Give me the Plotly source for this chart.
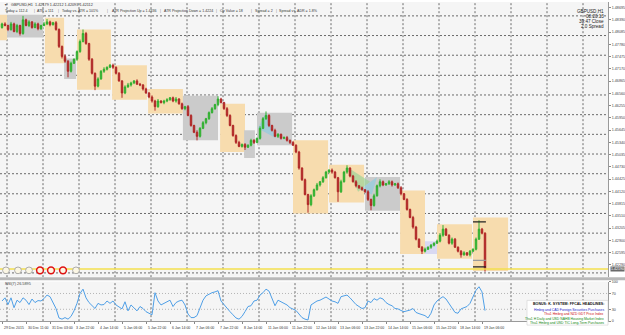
import plotly.graph_objects as go

# ---------------- data ----------------
first_open = 1.4820
closes = [
    1.4829, 1.4825, 1.4815, 1.4829, 1.4810, 1.4825, 1.4805, 1.4839, 1.4825, 1.4834,
    1.4820, 1.4829, 1.4817, 1.4825, 1.4829, 1.4834, 1.4827, 1.4832, 1.4815, 1.4773,
    1.4748, 1.4736, 1.4711, 1.4731, 1.4741, 1.4760, 1.4785, 1.4805, 1.4780, 1.4741,
    1.4706, 1.4674, 1.4692, 1.4711, 1.4716, 1.4721, 1.4726, 1.4721, 1.4706, 1.4687,
    1.4657, 1.4672, 1.4677, 1.4682, 1.4687, 1.4679, 1.4677, 1.4667, 1.4657, 1.4647,
    1.4637, 1.4623, 1.4637, 1.4633, 1.4637, 1.4640, 1.4645, 1.4637, 1.4642, 1.4630,
    1.4618, 1.4623, 1.4601, 1.4576, 1.4559, 1.4549, 1.4569, 1.4583, 1.4593, 1.4608,
    1.4618, 1.4628, 1.4642, 1.4633, 1.4618, 1.4601, 1.4576, 1.4551, 1.4534, 1.4524,
    1.4529, 1.4522, 1.4527, 1.4539, 1.4534, 1.4544, 1.4569, 1.4593, 1.4601, 1.4576,
    1.4564, 1.4549, 1.4554, 1.4544, 1.4546, 1.4539, 1.4534, 1.4527, 1.4510, 1.4470,
    1.4441, 1.4404, 1.4379, 1.4401, 1.4416, 1.4428, 1.4436, 1.4446, 1.4460, 1.4465,
    1.4460, 1.4446, 1.4411, 1.4436, 1.4460, 1.4470, 1.4450, 1.4436, 1.4426, 1.4421,
    1.4416, 1.4411, 1.4392, 1.4377, 1.4401, 1.4426, 1.4436, 1.4428, 1.4431, 1.4436,
    1.4428, 1.4431, 1.4421, 1.4406, 1.4392, 1.4367, 1.4347, 1.4323, 1.4293, 1.4273,
    1.4263, 1.4268, 1.4273, 1.4278, 1.4283, 1.4288, 1.4303, 1.4318, 1.4303, 1.4283,
    1.4293, 1.4273, 1.4263, 1.4254, 1.4259, 1.4254, 1.4263, 1.4268, 1.4293, 1.4318,
    1.4308, 1.4219]
up_wick_pips = [
    3, 4, 2, 5, 3, 4, 2, 10, 3, 4, 2, 4, 3, 2, 5, 7, 3, 2, 4, 3,
    2, 5, 3, 4, 2, 3, 5, 10, 4, 2, 3, 2, 4, 3, 5, 2, 3, 4, 2, 3,
    2, 4, 5, 3, 2, 4, 3, 2, 3, 2, 4, 3, 5, 2, 3, 4, 2, 3, 5, 2,
    3, 2, 4, 3, 2, 5, 3, 4, 2, 3, 4, 2, 7, 3, 2, 4, 3, 2, 3, 4,
    2, 3, 2, 4, 3, 2, 5, 4, 10, 3, 2, 4, 3, 2, 3, 4, 2, 3, 2, 3,
    2, 3, 2, 4, 3, 5, 2, 4, 3, 2, 4, 3, 2, 5, 3, 7, 2, 3, 4, 2,
    3, 2, 4, 2, 5, 3, 6, 3, 2, 4, 3, 2, 3, 4, 2, 3, 2, 4, 3, 2,
    3, 4, 2, 3, 2, 4, 5, 10, 3, 2, 4, 3, 2, 3, 4, 2, 3, 2, 4, 22,
    3, 2]
dn_wick_pips = [
    3, 2, 4, 3, 2, 4, 5, 3, 2, 4, 3, 2, 4, 3, 2, 3, 4, 2, 3, 4,
    5, 4, 15, 3, 2, 4, 3, 2, 3, 4, 3, 10, 3, 2, 4, 3, 2, 4, 3, 2,
    12, 3, 2, 4, 3, 2, 3, 4, 2, 3, 4, 10, 3, 2, 4, 3, 2, 3, 4, 2,
    3, 4, 2, 3, 2, 10, 3, 2, 4, 3, 2, 3, 4, 2, 3, 4, 2, 3, 4, 2,
    3, 7, 2, 3, 4, 2, 3, 2, 3, 4, 3, 2, 4, 3, 2, 3, 4, 2, 3, 4,
    3, 2, 20, 4, 3, 2, 4, 3, 2, 3, 4, 2, 25, 3, 2, 4, 3, 2, 4, 3,
    2, 3, 4, 12, 3, 2, 4, 3, 2, 3, 4, 2, 3, 4, 2, 3, 2, 4, 3, 2,
    7, 3, 2, 4, 3, 2, 3, 4, 2, 3, 4, 2, 3, 7, 2, 3, 4, 2, 3, 2,
    3, 7]
rsi7 = [
    51, 59, 42, 59, 34, 53, 47, 59, 53, 42, 56, 47, 52, 51, 57, 66, 62, 45, 32, 8,
    5, 9, 5, 12, 26, 45, 70, 81, 59, 47, 39, 32, 45, 41, 42, 51, 45, 51, 41, 37,
    31, 49, 26, 41, 34, 26, 37, 32, 24, 20, 16, 72, 51, 41, 45, 49, 53, 37, 47, 51,
    53, 41, 18, 9, 9, 14, 32, 53, 64, 69, 72, 74, 77, 51, 41, 32, 24, 16, 8, 5,
    12, 24, 37, 39, 51, 53, 66, 72, 81, 76, 56, 39, 53, 49, 45, 41, 34, 31, 27, 18,
    9, 5, 3, 41, 47, 51, 53, 57, 61, 56, 51, 49, 45, 62, 64, 66, 59, 51, 42, 37,
    32, 34, 51, 47, 57, 53, 59, 56, 47, 42, 39, 32, 31, 27, 24, 26, 28, 32, 22, 19,
    16, 14, 8, 20, 41, 51, 57, 62, 56, 45, 32, 22, 20, 31, 34, 37, 45, 62, 78, 87,
    74, 26.6]
rsi_title = "RSI(7) 26.5895"
rsi_levels = [70, 30]
rsi_ticks = [100, 70, 30, 0]

date_labels = ["29 Dec 2015", "30 Dec 11:00", "31 Dec 03:00", "3 Jan 22:00", "4 Jan 14:00",
               "5 Jan 06:00", "5 Jan 22:00", "6 Jan 14:00", "7 Jan 06:00", "7 Jan 22:00",
               "8 Jan 14:00", "11 Jan 06:00", "11 Jan 22:00", "12 Jan 14:00", "13 Jan 06:00",
               "13 Jan 22:00", "14 Jan 14:00", "15 Jan 06:00", "15 Jan 22:00", "18 Jan 14:00",
               "19 Jan 06:00"]
date_label_bars = [0, 8, 16, 24, 32, 40, 48, 56, 64, 72, 80, 88, 96, 104, 112,
                   120, 128, 136, 144, 152, 160]
day_grid_bars = [1.67, 13.67, 25.67, 37.67, 49.67, 61.67, 73.67, 85.67, 97.67,
                 109.67, 121.67, 133.67, 145.67, 157.67, 169.67, 181.67, 193.67]

price_tick_labels = ["1.48695", "1.48390", "1.48085", "1.47780", "1.47475", "1.47170",
                     "1.46865", "1.46560", "1.46255", "1.45950", "1.45645", "1.45340",
                     "1.45035", "1.44730", "1.44425", "1.44120", "1.43815", "1.43510",
                     "1.43205", "1.42900", "1.42595", "1.42290", "1.41985"]
price_grid_levels = [1.4849, 1.4800, 1.4751, 1.4701, 1.4652, 1.4603, 1.4554,
                     1.4505, 1.4456, 1.4406, 1.4357, 1.4308, 1.4259, 1.4209]

# session boxes (bar index range, price range, kind)
box_start = [-0.7, 1.7, 14.3, 20.7, 25.0, 36.7, 48.7, 60.3, 72.7, 80.7, 85.0,
             97.0, 109.0, 121.0, 132.7, 141.0, 145.0, 157.0]
box_end = [1.7, 13.7, 20.7, 24.7, 36.3, 48.3, 60.3, 72.0, 81.0, 84.3, 96.7,
           108.7, 120.7, 132.7, 141.0, 145.0, 156.7, 168.7]
box_top = [1.4852, 1.4852, 1.4844, 1.4743, 1.4815, 1.4726, 1.4667, 1.4650, 1.4630,
           1.4564, 1.4608, 1.4539, 1.4478, 1.4448, 1.4414, 1.4288, 1.4330, 1.4347]
box_bottom = [1.4788, 1.4795, 1.4731, 1.4692, 1.4665, 1.4640, 1.4606, 1.4539, 1.4510,
              1.4495, 1.4527, 1.4357, 1.4384, 1.4364, 1.4256, 1.4256, 1.4244, 1.4214]
box_kind = ["o", "g", "o", "g", "o", "o", "o", "g", "o", "g", "g",
            "o", "o", "g", "o", "l", "o", "o"]

# pattern triangles (bar index, price)
tri_bars = [[85.3, 88.0, 91.3], [115.0, 122.7, 118.7], [119.3, 125.0, 123.3]]
tri_prices = [[1.4569, 1.4608, 1.4544], [1.4473, 1.4436, 1.4411], [1.4416, 1.4448, 1.4404]]
tri_colors = ["rgba(140,205,225,0.65)", "rgba(150,210,150,0.65)", "rgba(140,205,225,0.65)"]

# ATR projection marks on the last session
proj_levels = [1.4336, 1.4240, 1.4224]
proj_colors = ["#222222", "#999999", "#222222"]
proj_bars = [157.0, 161.3]

header_line1 = "GBPUSD,H1  1.42179 1.42212 1.42093 1.42112"
header_items = ["Today = 112.4", "ATR = 111", "Today vs. ATR = 101%",
                "ATR Projection Up = 1.4336", "ATR Projection Down = 1.4224",
                "Op Value = 18", "Spread = 2", "Spread vs. ADR = 1.8%"]
header_x = [3, 35, 60, 110, 162, 218, 253, 277]
header_sep_x = [32, 56, 105, 158, 214, 249, 274]
info_lines = ["GBPUSD,H1", "08:20:13", "39:47 Close", "2.0 Spread"]
news_title = "BONUS: K. SYSTEM: FFCAL HEADLINES:"
news_lines = ["Hmbrg and CAD Foreign Securities Purchases",
              "Thu1 Hmbrg and NZD GDT Price Index",
              "Thu1 H Daily and USD NAHB Housing Market Index",
              "Thu1 Hmbrg and USD TIC Long-Term Purchases"]
news_colors = ["#2222cc", "#cc1111", "#118811", "#118811"]
icon_x = [6, 18, 29, 40, 51, 63, 76]
icon_red = [0, 0, 0, 1, 1, 1, 0]

# ---------------- build ----------------
W, H = 625, 335
PLOT_R = 608


def px(x):
    return x / W


def py(y):
    return 1 - y / H


bars = list(range(len(closes)))
opens = [first_open] + closes[:-1]
highs = [max(o, c) + u / 10000 for o, c, u in zip(opens, closes, up_wick_pips)]
lows = [min(o, c) - d / 10000 for o, c, d in zip(opens, closes, dn_wick_pips)]

FONT = "Liberation Sans"
GRID = dict(color="#6a6a6a", width=1, dash="2px,2px")
fig = go.Figure()
fig.add_trace(go.Candlestick(
    x=bars, open=opens, high=highs, low=lows, close=closes,
    increasing=dict(line=dict(color="#2eae2e", width=1), fillcolor="#38c038"),
    decreasing=dict(line=dict(color="#b02626", width=1), fillcolor="#b02626"),
    whiskerwidth=0, xaxis="x", yaxis="y", showlegend=False, hoverinfo="skip"))
fig.add_trace(go.Scatter(
    x=bars, y=rsi7, mode="lines", line=dict(color="#4f9fe6", width=1),
    xaxis="x2", yaxis="y2", showlegend=False, hoverinfo="skip"))

shapes = []
kind_fill = {"o": "#f7dcae", "g": "#cbcbcb", "l": "#d9d9f2"}
for s, e, t, b, k in zip(box_start, box_end, box_top, box_bottom, box_kind):
    shapes.append(dict(type="rect", xref="x", yref="y", x0=s, x1=e, y0=b, y1=t,
                       fillcolor=kind_fill[k], line=dict(width=0), layer="below"))
for lv in price_grid_levels:
    shapes.append(dict(type="line", xref="paper", yref="y", x0=0, x1=px(PLOT_R), y0=lv, y1=lv,
                       line=GRID, layer="below"))
for gb in day_grid_bars:
    shapes.append(dict(type="line", xref="x", yref="paper", x0=gb, x1=gb,
                       y0=py(278.5), y1=1, line=GRID, layer="below"))
    shapes.append(dict(type="line", xref="x", yref="paper", x0=gb, x1=gb,
                       y0=py(323), y1=py(283), line=GRID, layer="below"))
for tb, tp, tc in zip(tri_bars, tri_prices, tri_colors):
    path = "M {},{} L {},{} L {},{} Z".format(tb[0], tp[0], tb[1], tp[1], tb[2], tp[2])
    shapes.append(dict(type="path", xref="x", yref="y", path=path, fillcolor=tc,
                       line=dict(width=0), layer="below"))
for lv, col in zip(proj_levels, proj_colors):
    shapes.append(dict(type="line", xref="x", yref="y", x0=proj_bars[0], x1=proj_bars[1],
                       y0=lv, y1=lv, line=dict(color=col, width=1.2), layer="above"))
# current price line (yellow)
shapes.append(dict(type="line", xref="paper", yref="y", x0=0, x1=px(PLOT_R),
                   y0=closes[-1], y1=closes[-1], line=dict(color="#f3df4c", width=1.5),
                   layer="above"))
# RSI levels
for lv in rsi_levels:
    shapes.append(dict(type="line", xref="paper", yref="y2", x0=0, x1=px(PLOT_R), y0=lv, y1=lv,
                       line=dict(color="#b5b5b5", width=1, dash="1px,2px"), layer="below"))
# pane separator
shapes.append(dict(type="rect", xref="paper", yref="paper", x0=0, x1=1,
                   y0=py(281.5), y1=py(278.5), fillcolor="#b8b8b8", line=dict(width=0)))
# news icons
for ix, red in zip(icon_x, icon_red):
    shapes.append(dict(type="circle", xref="paper", yref="paper",
                       x0=px(ix - 3.4), x1=px(ix + 3.4), y0=py(275), y1=py(268.2),
                       fillcolor="#fbf6e4",
                       line=dict(color="#e01010" if red else "#9a9a9a",
                                 width=1.5 if red else 0.8)))
# news box
shapes.append(dict(type="rect", xref="paper", yref="paper", x0=px(527), x1=px(PLOT_R),
                   y0=py(327), y1=py(302), fillcolor="white",
                   line=dict(color="#d0d0d0", width=0.6)))

ann = []


def text(x, y, s, size=4.0, color="#333333", anchor="left", bold=False):
    ann.append(dict(x=px(x), y=py(y), xref="paper", yref="paper",
                    text=("<b>%s</b>" % s) if bold else s,
                    showarrow=False, xanchor=anchor, yanchor="middle",
                    font=dict(family=FONT, size=size, color=color)))


text(1.5, 3.5, "▼", size=3.6, color="#555555")
text(9, 3.5, header_line1, size=3.8)
for hx, hs in zip(header_x, header_items):
    text(hx, 9.5, hs, size=3.6)
for sx in header_sep_x:
    text(sx, 9.5, "|", size=3.6, color="#777777")
for k, line in enumerate(info_lines):
    text(606, [9.3, 15, 20, 25][k], line, size=4.6, color="#222222", anchor="right")
text(3, 285.5, rsi_title, size=3.8, color="#444444")
text(606, 305.7, news_title, size=3.6, color="#111111", anchor="right", bold=True)
for k, (line, col) in enumerate(zip(news_lines, news_colors)):
    text(606, [311.5, 316.2, 320.7, 325.0][k], line, size=3.4, color=col, anchor="right")
for b, lab in zip(date_label_bars, date_labels):
    ann.append(dict(x=b, y=py(330), xref="x2", yref="paper", text=lab, showarrow=False,
                    xanchor="left", yanchor="middle",
                    font=dict(family=FONT, size=3.5, color="#333333")))
ann.append(dict(x=px(609.5), y=closes[-1], xref="paper", yref="y", text="%.5f" % closes[-1],
                showarrow=False, xanchor="left", yanchor="middle", bgcolor="#6a6a6a",
                borderpad=0, font=dict(family=FONT, size=3.6, color="white")))

xr = [-2 / 3, (PLOT_R - 2) / 3]
main_bottom = 278.0
fig.update_layout(
    width=W, height=H, margin=dict(l=0, r=0, t=0, b=0),
    paper_bgcolor="white", plot_bgcolor="#f5f5f5",
    showlegend=False, shapes=shapes, annotations=ann,
    xaxis=dict(domain=[0, px(PLOT_R)], range=xr, anchor="y", showticklabels=False,
               showgrid=False, zeroline=False, rangeslider=dict(visible=False),
               showline=False, ticks=""),
    yaxis=dict(domain=[py(main_bottom), 1],
               range=[1.48835 - 0.000246 * main_bottom, 1.48835], side="right",
               anchor="x", tickvals=[float(s) for s in price_tick_labels],
               ticktext=price_tick_labels, showgrid=False, zeroline=False,
               ticks="outside", ticklen=2, tickcolor="#888888",
               showline=True, linecolor="#9a9a9a", linewidth=1,
               tickfont=dict(family=FONT, size=3.7, color="#444444")),
    xaxis2=dict(domain=[0, px(PLOT_R)], range=xr, anchor="y2", showticklabels=False,
                tickvals=date_label_bars, ticks="outside", ticklen=2, tickcolor="#888888",
                showgrid=False, zeroline=False, showline=True, linecolor="#9a9a9a"),
    yaxis2=dict(domain=[py(323), py(283)], range=[0, 100], side="right", anchor="x2",
                tickvals=rsi_ticks, ticktext=[str(v) for v in rsi_ticks],
                showgrid=False, zeroline=False, ticks="outside", ticklen=2,
                tickcolor="#888888", showline=True, linecolor="#9a9a9a", linewidth=1,
                tickfont=dict(family=FONT, size=3.7, color="#444444")),
)

fig.write_html("out.html", config={"displayModeBar": False})
